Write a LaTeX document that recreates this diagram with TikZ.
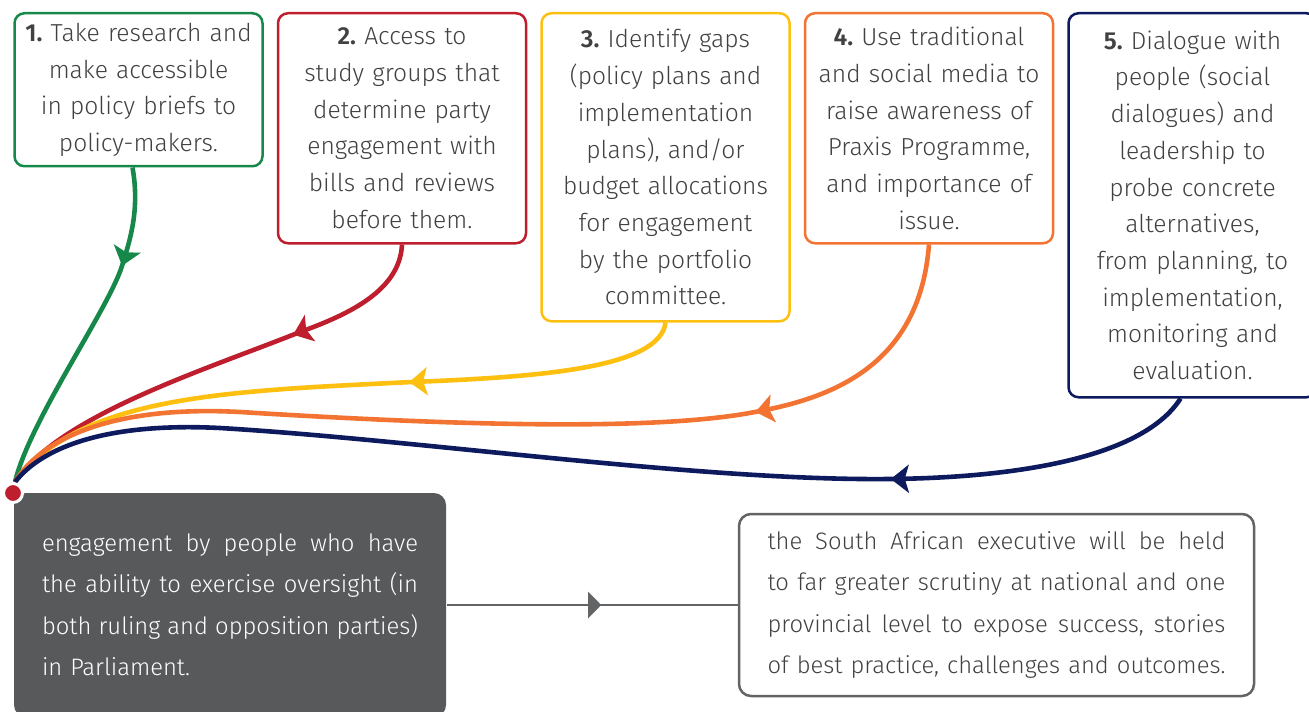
\documentclass[tikz,border=0pt]{standalone}
\usepackage{fontspec}
\setmainfont{Fira Sans Light}[BoldFont={Fira Sans SemiBold}]
\usetikzlibrary{positioning}
\usetikzlibrary{arrows.meta}
\usetikzlibrary{decorations.markings}

\definecolor{stepgreen}{HTML}{16884A}
\definecolor{stepred}{HTML}{BE1E2D}
\definecolor{stepyellow}{HTML}{FDC010}
\definecolor{steporange}{HTML}{F37432}
\definecolor{stepnavy}{HTML}{0D1A5E}
\definecolor{inkgrey}{HTML}{414042}
\definecolor{boxgrey}{HTML}{58595B}
\definecolor{linegrey}{HTML}{636466}
\frenchspacing
% justified line: words spread over the full width with \hfill
\newcommand{\fullline}[2][229pt]{\leavevmode\hbox to #1{#2}}

\begin{document}
\begin{tikzpicture}[
	x=0.5pt, y=-0.5pt,
	font=\fontsize{12.3}{18.35}\selectfont,
	stepbox/.style={draw, line width=1.25pt, rounded corners=5pt, align=center, text width=122pt, minimum width=124pt, inner sep=0pt, text=inkgrey},
	feed/.style={line width=2.3pt, postaction={decorate}, decoration={markings, mark=at position #1 with {\arrow{Stealth[length=9pt, width=14pt, inset=2pt]}}}},
	flow/.style={line width=1.25pt, linegrey, postaction={decorate}, decoration={markings, mark=at position #1 with {\arrow{Triangle[length=6.5pt, width=13pt]}}}},
	result/.style={line width=1.25pt, rounded corners=6pt, minimum height=#1, font=\fontsize{11.9}{20.75}\selectfont, align=left}
	]
	\clip (0,0) rectangle (1309,711);

	% Steps
	\node[stepbox, draw=stepgreen, minimum height=76.5pt, anchor=north] (b1) at (138.5,12) {\textbf{1.} Take research and\\ make accessible\\ in policy briefs to\\ policy-makers.};
	\node[stepbox, draw=stepred, minimum height=115pt, right=6.5pt of b1.north east, anchor=north west] (b2) {\textbf{2.} Access to\\ study groups that\\ determine party\\ engagement with\\ bills and reviews\\ before them.};
	\node[stepbox, draw=stepyellow, minimum height=154pt, right=6.5pt of b2.north east, anchor=north west] (b3) {\textbf{3.} Identify gaps\\ (policy plans and\\ implementation\\ plans), and/or\\ budget allocations\\ for engagement\\ by the portfolio\\ committee.};
	\node[stepbox, draw=steporange, minimum height=115pt, right=6.5pt of b3.north east, anchor=north west] (b4) {\textbf{4.} Use traditional\\ and social media to\\ raise awareness of\\ Praxis Programme,\\ and importance of\\ issue.};
	\node[stepbox, draw=stepnavy, minimum height=192pt, right=6.5pt of b4.north east, anchor=north west] (b5) {\textbf{5.} Dialogue with\\ people (social\\ dialogues) and\\ leadership to\\ probe concrete\\ alternatives,\\ from planning, to\\ implementation,\\ monitoring and\\ evaluation.};

	\coordinate (hub) at (15,482);

	% Curves into the hub
	\draw[feed=50pt, stepgreen] ([xshift=-3pt]b1.south) .. controls (140,210) and (130,240) .. (122,266) .. controls (108,310) and (30,420) .. (hub);
	\draw[feed=75pt, stepred] (b2.south) .. controls (400,290) and (350,314) .. (300,332) .. controls (205,370) and (60,415) .. (hub);
	\draw[feed=137pt, stepyellow] (b3.south) .. controls (660,368) and (540,377) .. (412,382) .. controls (230,391) and (80,395) .. (hub);
	\draw[feed=132pt, steporange] (b4.south) .. controls (920,360) and (840,396) .. (760,411) .. controls (660,432) and (450,425) .. (240,412) .. controls (110,405) and (40,440) .. (hub);
	\draw[feed=155pt, stepnavy] ([xshift=-6pt]b5.south) .. controls (1140,462) and (1000,478) .. (889,479) .. controls (700,481) and (420,440) .. (220,428) .. controls (100,422) and (40,450) .. (hub);

	% Outcome
	\node[result=112pt, fill=boxgrey, text=white, text width=188pt, inner xsep=14pt] (engage) at (230,605) {\fullline[188pt]{engagement\hfill by\hfill people\hfill who\hfill have}\\ \fullline[188pt]{the\hfill ability\hfill to\hfill exercise\hfill oversight\hfill (in}\\ \fullline[188pt]{both\hfill ruling\hfill and\hfill opposition\hfill parties)}\\ in Parliament.};
	\node[result=91pt, draw=linegrey, text=inkgrey, text width=229pt, inner xsep=14.25pt] (scrutiny) at (996.5,605) {\fullline{the\hfill South\hfill African\hfill executive\hfill will\hfill be\hfill held}\\ \fullline{to\hfill far\hfill greater\hfill scrutiny\hfill at\hfill national\hfill and\hfill one}\\ \fullline{provincial\hfill level\hfill to\hfill expose\hfill success,\hfill stories}\\ \fullline{of\hfill best\hfill practice,\hfill challenges\hfill and\hfill outcomes.}};
	\draw[flow=0.53] (engage.east) -- (scrutiny.west);

	\node[circle, fill=stepred, draw=white, line width=1.5pt, minimum size=9.5pt, inner sep=0pt] (pin) at (13,493) {};
\end{tikzpicture}
\end{document}
